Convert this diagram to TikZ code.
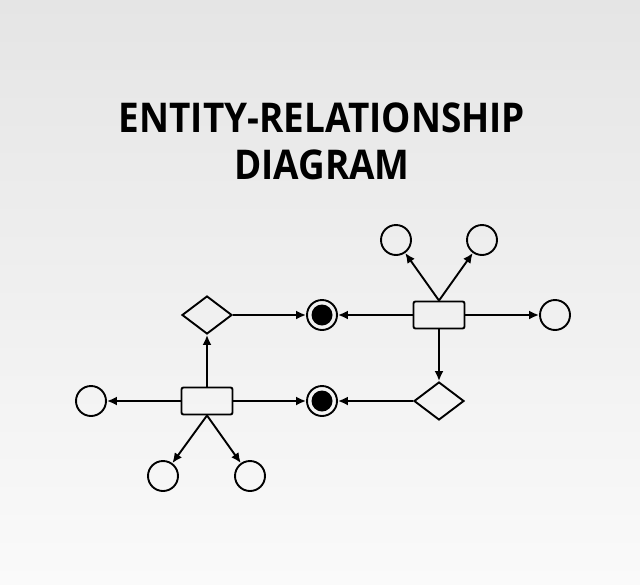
\documentclass[tikz,border=0pt]{standalone}
\usepackage{fontspec}
\setmainfont{Open Sans}
\usetikzlibrary{arrows.meta,shapes.geometric}
\definecolor{bgtop}{RGB}{229,229,229}
\definecolor{bgbot}{RGB}{250,250,250}
\begin{document}
\begin{tikzpicture}[x=1pt,y=-1pt,
  line width=1.9pt,
  attr/.style={circle,draw,minimum size=30pt,inner sep=0pt},
  entity/.style={rectangle,draw,rounded corners=2pt,minimum width=51pt,minimum height=27pt,inner sep=0pt},
  rel/.style={diamond,draw,minimum width=50pt,minimum height=38pt,inner sep=0pt,aspect=1.3},
  key/.style={circle,draw,minimum size=30pt,inner sep=0pt,path picture={\fill (path picture bounding box.center) circle (10.5pt);}},
  conn/.style={-{Latex[length=10pt,width=9pt]}},
  ttl/.style={font=\fontsize{41}{48}\selectfont\bfseries,inner sep=0pt}
]
\shade[top color=bgtop,bottom color=bgbot] (0,0) rectangle (640,584);
\useasboundingbox (0,0) rectangle (640,584);
\node[ttl] (t1) at (322,118) {\scalebox{0.9}[1]{ENTITY-RELATIONSHIP}};
\node[ttl] (t2) at (322,165) {\scalebox{0.9}[1]{DIAGRAM}};
\node[rel] (d1) at (207,315) {};
\node[key] (k1) at (322,315) {};
\node[entity] (e1) at (439,315) {};
\node[attr] (a1) at (396,240) {};
\node[attr] (a2) at (482,240) {};
\node[attr] (a3) at (555,315) {};
\node[rel] (d2) at (439,401) {};
\node[key] (k2) at (322,401) {};
\node[entity] (e2) at (207,401) {};
\node[attr] (a4) at (91,401) {};
\node[attr] (a5) at (163,476) {};
\node[attr] (a6) at (250,476) {};
\draw[conn] (d1) -- (k1);
\draw[conn] (e1) -- (k1);
\draw[conn] (e1.north) -- (a1);
\draw[conn] (e1.north) -- (a2);
\draw[conn] (e1) -- (a3);
\draw[conn] (e1) -- (d2);
\draw[conn] (d2) -- (k2);
\draw[conn] (e2) -- (k2);
\draw[conn] (e2) -- (a4);
\draw[conn] (e2) -- (d1);
\draw[conn] (e2.south) -- (a5);
\draw[conn] (e2.south) -- (a6);
\end{tikzpicture}
\end{document}
